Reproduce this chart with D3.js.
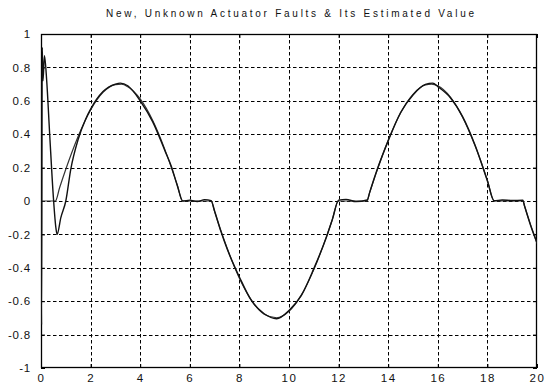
<!DOCTYPE html>
<html>
<head>
<meta charset="utf-8">
<script src="https://cdn.jsdelivr.net/npm/d3@7/dist/d3.min.js"></script>
<style>
  html, body { margin: 0; padding: 0; background: #fff; }
  svg { display: block; }
  text { font-family: "Liberation Sans", Arial, Helvetica, sans-serif; fill: #111; }
</style>
</head>
<body>
<svg id="chart" width="547" height="383"></svg>
<script>
// ---- data ----
const title = "New, Unknown Actuator Faults & Its Estimated Value";
const xTicks = [0, 2, 4, 6, 8, 10, 12, 14, 16, 18, 20];
const yTicks = [-1, -0.8, -0.6, -0.4, -0.2, 0, 0.2, 0.4, 0.6, 0.8, 1];
const yTickLabels = ["-1", "-0.8", "-0.6", "-0.4", "-0.2", "0", "0.2", "0.4", "0.6", "0.8", "1"];

// actual fault
const faultT = [0, 0.58, 0.75, 1.0, 1.5, 2.0, 2.5, 3.0, 3.25, 3.5, 4.0, 4.5, 5.0, 5.25, 5.5, 5.70,
                6.86, 7.0, 7.25, 7.5, 8.0, 8.5, 9.0, 9.5, 10.0, 10.5, 11.0, 11.5, 11.75, 11.99,
                13.15, 13.25, 13.5, 14.0, 14.5, 15.0, 15.5, 15.75, 16.0, 16.5, 17.0, 17.5, 18.0, 18.27,
                19.43, 19.5, 19.75, 20.0];
const faultV = [0, 0, 0.079, 0.190, 0.388, 0.545, 0.650, 0.697, 0.699, 0.684, 0.611, 0.483, 0.306, 0.203, 0.094, 0,
                0, -0.064, -0.176, -0.280, -0.462, -0.597, -0.678, -0.699, -0.660, -0.562, -0.411, -0.218, -0.109, 0,
                0, 0.049, 0.161, 0.364, 0.527, 0.639, 0.695, 0.700, 0.690, 0.624, 0.502, 0.332, 0.124, 0,
                0, -0.033, -0.146, -0.253];

// estimated value
const estT = [0, 0.02, 0.05, 0.08, 0.14, 0.23, 0.35, 0.5, 0.6, 0.65, 0.8, 1.0, 1.2, 1.5, 1.8, 2.0, 2.5, 3.0, 3.2, 3.5,
              4.0, 4.5, 5.0, 5.25, 5.5, 5.72, 6.0, 6.3, 6.6, 6.86, 7.0, 7.25, 7.5, 8.0, 8.5, 9.0, 9.5, 10.0,
              10.5, 11.0, 11.5, 11.75, 12.0, 12.3, 12.7, 13.15, 13.25, 13.5, 14.0, 14.5, 15.0, 15.5, 15.8, 16.0,
              16.5, 17.0, 17.5, 18.0, 18.27, 18.6, 19.0, 19.43, 19.5, 19.75, 20.0];
const estV = [0, -0.74, 0.92, 0.72, 0.87, 0.72, 0.40, 0.02, -0.16, -0.20, -0.10, 0.0, 0.19, 0.37, 0.49, 0.55, 0.655, 0.70, 0.706, 0.69,
              0.60, 0.475, 0.30, 0.21, 0.09, 0.0, 0.005, -0.003, 0.008, 0.002, -0.06, -0.18, -0.285, -0.455, -0.60, -0.675, -0.705, -0.655,
              -0.565, -0.405, -0.22, -0.11, 0.005, 0.01, -0.004, 0.006, 0.05, 0.165, 0.36, 0.53, 0.635, 0.698, 0.706, 0.685,
              0.62, 0.505, 0.335, 0.12, 0.002, 0.006, 0.003, 0.005, -0.03, -0.15, -0.25];

// ---- drawing ----
const svg = d3.select("#chart");
const L = 41, R = 537, T = 34, B = 368;
const x = d3.scaleLinear().domain([0, 20]).range([L, R]);
const y = d3.scaleLinear().domain([-1, 1]).range([B, T]);

// grid
const grid = svg.append("g").attr("stroke", "#000").attr("stroke-width", 1)
  .attr("stroke-dasharray", "3.5,2.5").attr("fill", "none");
grid.selectAll("line.v").data(xTicks.slice(1, -1)).enter().append("line")
  .attr("x1", d => Math.round(x(d)) + 0.5).attr("x2", d => Math.round(x(d)) + 0.5)
  .attr("y1", T).attr("y2", B);
grid.selectAll("line.h").data(yTicks.slice(1, -1)).enter().append("line")
  .attr("y1", d => Math.round(y(d)) + 0.5).attr("y2", d => Math.round(y(d)) + 0.5)
  .attr("x1", L).attr("x2", R);

// axes (ticks inward, MATLAB style)
const xb = d3.axisBottom(x).tickValues(xTicks).tickSize(-4).tickPadding(8).tickFormat(d3.format("d"));
const xt = d3.axisTop(x).tickValues(xTicks).tickSize(-4).tickFormat("");
const yl = d3.axisLeft(y).tickValues(yTicks).tickSize(-4).tickPadding(10)
  .tickFormat((d, i) => yTickLabels[i]);
const yr = d3.axisRight(y).tickValues(yTicks).tickSize(-4).tickFormat("");

function style(g) {
  g.select(".domain").remove();
  g.selectAll(".tick line").attr("stroke", "#000");
  g.selectAll("text").attr("font-size", 11.5).attr("fill", "#111");
}
svg.append("g").attr("transform", `translate(0,${B})`).call(xb).call(style)
  .selectAll("text").attr("letter-spacing", "1.5px").attr("dy", "0.55em");
svg.append("g").attr("transform", `translate(0,${T})`).call(xt).call(style);
svg.append("g").attr("transform", `translate(${L},0)`).call(yl).call(style)
  .selectAll("text").attr("letter-spacing", "0.8px");
svg.append("g").attr("transform", `translate(${R},0)`).call(yr).call(style);

// box
svg.append("rect").attr("x", L + 0.5).attr("y", T + 0.5)
  .attr("width", R - L - 1).attr("height", B - T - 1)
  .attr("fill", "none").attr("stroke", "#000").attr("stroke-width", 1.3);

// lines
const line = d3.line().x(d => x(d[0])).y(d => y(d[1])).curve(d3.curveMonotoneX);
svg.append("clipPath").attr("id", "clip").append("rect")
  .attr("x", L).attr("y", T).attr("width", R - L).attr("height", B - T);
svg.append("path").datum(d3.zip(faultT, faultV)).attr("d", line)
  .attr("fill", "none").attr("stroke", "#333").attr("stroke-width", 1.2)
  .attr("clip-path", "url(#clip)");
svg.append("path").datum(d3.zip(estT, estV)).attr("d", line)
  .attr("fill", "none").attr("stroke", "#111").attr("stroke-width", 1.4)
  .attr("clip-path", "url(#clip)");

// title
svg.append("text").attr("x", 290).attr("y", 17).attr("text-anchor", "middle")
  .attr("font-size", 10).attr("textLength", 368).attr("lengthAdjust", "spacing")
  .text(title);
</script>
</body>
</html>
